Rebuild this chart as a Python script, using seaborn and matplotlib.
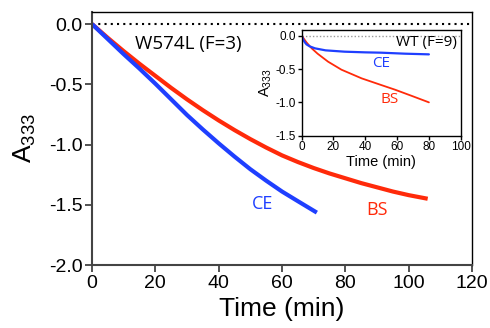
import matplotlib
matplotlib.use("Agg")
import matplotlib.pyplot as plt
import seaborn as sns
import pandas as pd

# Main panel (W574L, F=3)
ce_time = [0, 5, 10, 15, 20, 25, 30, 35, 40, 45, 50, 55, 60, 65, 71]
ce_abs = [0, -0.125, -0.25, -0.37, -0.495, -0.625, -0.755, -0.875, -0.99, -1.10, -1.205, -1.30, -1.39, -1.47, -1.565]
bs_time = [0, 5, 10, 15, 20, 25, 30, 35, 40, 45, 50, 55, 60, 65, 70, 75, 80, 85, 90, 95, 100, 106]
bs_abs = [0, -0.115, -0.225, -0.33, -0.43, -0.53, -0.625, -0.715, -0.80, -0.88, -0.955, -1.025, -1.09,
          -1.145, -1.195, -1.24, -1.28, -1.32, -1.355, -1.39, -1.42, -1.45]

# Inset (WT, F=9)
wt_ce_time = [0, 1, 2, 3, 5, 8.4, 15, 27, 40, 50, 65, 80]
wt_ce_abs = [0, -0.06, -0.10, -0.13, -0.16, -0.19, -0.22, -0.24, -0.25, -0.255, -0.27, -0.28]
wt_bs_time = [0, 3, 6.3, 10, 16.6, 25, 37.7, 50, 58.7, 70, 80]
wt_bs_abs = [0, -0.10, -0.19, -0.27, -0.39, -0.51, -0.64, -0.74, -0.81, -0.91, -1.0]

main_xticks = [0, 20, 40, 60, 80, 100, 120]
main_yticks = [0.0, -0.5, -1.0, -1.5, -2.0]
inset_xticks = [0, 20, 40, 60, 80, 100]
inset_yticks = [0.0, -0.5, -1.0, -1.5]

BLUE = "#1f3fff"
RED = "#ff2a0a"

sns.set_style("ticks")
plt.rcParams['font.family'] = ['Liberation Sans', 'DejaVu Sans']
plt.rcParams['mathtext.fontset'] = 'custom'
plt.rcParams['mathtext.rm'] = 'Liberation Sans'
plt.rcParams['mathtext.it'] = 'Liberation Sans'
plt.rcParams['text.color'] = 'black'
plt.rcParams['axes.labelcolor'] = 'black'
plt.rcParams['xtick.labelcolor'] = 'black'
plt.rcParams['ytick.labelcolor'] = 'black'

fig = plt.figure(figsize=(4.9, 3.28), dpi=100)
ax = fig.add_axes([0.1878, 0.192, 0.7755, 0.7714])

df_ce = pd.DataFrame({"t": ce_time, "a": ce_abs})
df_bs = pd.DataFrame({"t": bs_time, "a": bs_abs})
sns.lineplot(data=df_bs, x="t", y="a", ax=ax, color=RED, lw=3.0, solid_capstyle="butt")
sns.lineplot(data=df_ce, x="t", y="a", ax=ax, color=BLUE, lw=3.0, solid_capstyle="butt")
ax.axhline(0, color="black", ls=(0, (1, 2)), lw=1.5, zorder=0)

ax.set_xlim(0, 120)
ax.set_ylim(-2.0, 0.1)
ax.set_xticks(main_xticks)
ax.set_xticklabels([str(v) for v in main_xticks])
ax.set_yticks(main_yticks)
ax.set_yticklabels([f"{v:.1f}" for v in main_yticks])
ax.tick_params(labelsize=14, length=5, width=1.3, color="#444444", labelcolor="black", pad=2)
for s in ["left", "bottom"]:
    ax.spines[s].set_color("#444444")
    ax.spines[s].set_linewidth(1.5)
for s in ["top", "right"]:
    ax.spines[s].set_color("black")
    ax.spines[s].set_linewidth(1.0)
ax.set_xlabel("Time (min)", fontsize=19, labelpad=4, color="black")
ax.set_ylabel("A$_{\\mathrm{333}}$", fontsize=19, labelpad=8, color="black")

ax.text(13.6, -0.166, "W574L (F=3)", fontsize=13.5, color="black", va="center", ha="left",
        family=['Open Sans', 'DejaVu Sans'])
ax.text(53.7, -1.49, "CE", fontsize=13, color=BLUE, va="center", ha="center",
        family=['Open Sans', 'DejaVu Sans'])
ax.text(90, -1.54, "BS", fontsize=13, color=RED, va="center", ha="center",
        family=['Open Sans', 'DejaVu Sans'])

# Inset
ins = fig.add_axes([0.6157, 0.5863, 0.3245, 0.3232])
df_wce = pd.DataFrame({"t": wt_ce_time, "a": wt_ce_abs})
df_wbs = pd.DataFrame({"t": wt_bs_time, "a": wt_bs_abs})
sns.lineplot(data=df_wbs, x="t", y="a", ax=ins, color=RED, lw=1.3)
sns.lineplot(data=df_wce, x="t", y="a", ax=ins, color=BLUE, lw=1.6)
ins.axhline(0, color="#999999", ls=(0, (1, 1.5)), lw=1.0, zorder=0)
ins.set_xlim(0, 100)
ins.set_ylim(-1.5, 0.09)
ins.set_xticks(inset_xticks)
ins.set_xticklabels([str(v) for v in inset_xticks])
ins.set_yticks(inset_yticks)
ins.set_yticklabels([f"{v:.1f}" for v in inset_yticks])
ins.tick_params(labelsize=8.5, length=3, width=1.0, color="black", labelcolor="black", pad=1)
for s in ins.spines.values():
    s.set_color("black")
    s.set_linewidth(1.0)
ins.set_xlabel("Time (min)", fontsize=10.5, labelpad=1, color="black")
ins.set_ylabel("A$_{\\mathrm{333}}$", fontsize=10.5, labelpad=1, color="black")
ins.text(97.7, -0.105, "WT (F=9)", fontsize=11, color="black", va="center", ha="right",
         family=['Open Sans', 'DejaVu Sans'])
ins.text(49.7, -0.41, "CE", fontsize=11, color=BLUE, va="center", ha="center",
         family=['Open Sans', 'DejaVu Sans'])
ins.text(55.1, -0.95, "BS", fontsize=11, color=RED, va="center", ha="center",
         family=['Open Sans', 'DejaVu Sans'])

fig.savefig("out.png", dpi=100)
